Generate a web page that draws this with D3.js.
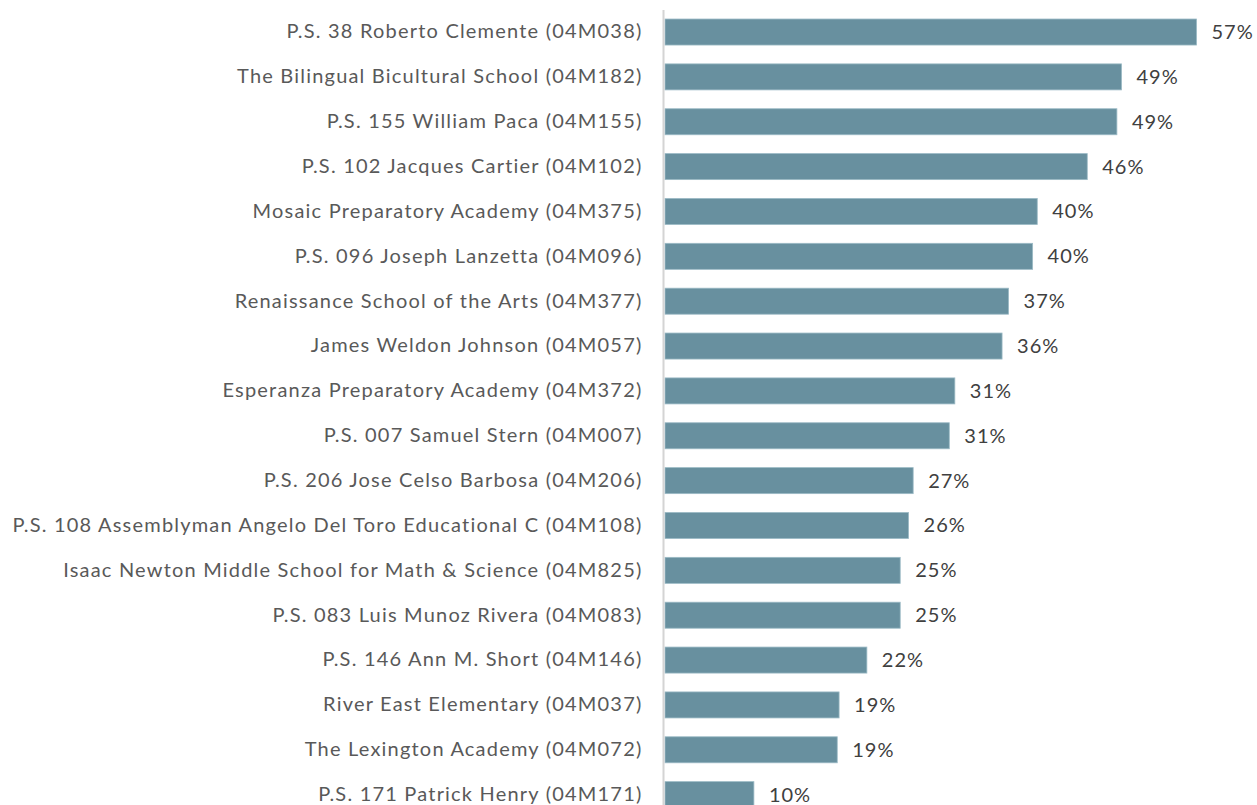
<!DOCTYPE html>
<html>
<head>
<meta charset="utf-8">
<script src="https://cdn.jsdelivr.net/npm/d3@7"></script>
<style>
  body { margin: 0; background: #fff; }
  svg { display: block; font-family: "Lato", "Open Sans", sans-serif; }
</style>
</head>
<body>
<div id="chart"></div>
<script>
// écoles (du plus haut au plus bas)
const schools = [
  "P.S. 38 Roberto Clemente (04M038)",
  "The Bilingual Bicultural School (04M182)",
  "P.S. 155 William Paca (04M155)",
  "P.S. 102 Jacques Cartier (04M102)",
  "Mosaic Preparatory Academy (04M375)",
  "P.S. 096 Joseph Lanzetta (04M096)",
  "Renaissance School of the Arts (04M377)",
  "James Weldon Johnson (04M057)",
  "Esperanza Preparatory Academy (04M372)",
  "P.S. 007 Samuel Stern (04M007)",
  "P.S. 206 Jose Celso Barbosa (04M206)",
  "P.S. 108 Assemblyman Angelo Del Toro Educational C (04M108)",
  "Isaac Newton Middle School for Math & Science (04M825)",
  "P.S. 083 Luis Munoz Rivera (04M083)",
  "P.S. 146 Ann M. Short (04M146)",
  "River East Elementary (04M037)",
  "The Lexington Academy (04M072)",
  "P.S. 171 Patrick Henry (04M171)"
]

// part de chaque école
const shares = [
  0.574, 0.493, 0.488, 0.456, 0.402, 0.397, 0.371, 0.364, 0.313,
  0.307, 0.268, 0.263, 0.254, 0.254, 0.218, 0.188, 0.186, 0.096
]

const W = 1257, H = 805
const margin = { top: 10, left: 665 }

const svg = d3.select("#chart")
  .append("svg")
  .attr("width", W)
  .attr("height", H)

// échelles
const x = d3.scaleLinear()
  .domain([0, 0.6])
  .range([margin.left, margin.left + 0.6 * 926])

const y = d3.scaleBand()
  .domain(schools)
  .range([9.6, 9.6 + schools.length * 44.86])
  .paddingInner(0.42)
  .paddingOuter(0.21)

const data = schools.map((s, i) => ({ school: s, share: shares[i] }))

// barres
svg.append("g")
  .selectAll("rect")
  .data(data)
  .join("rect")
  .attr("x", x(0))
  .attr("y", d => y(d.school))
  .attr("width", d => x(d.share) - x(0))
  .attr("height", y.bandwidth())
  .attr("fill", "#68909f")
  .attr("stroke", "#9bbac5")
  .attr("stroke-width", 0.8)

// axe vertical (sans graduations)
const axis = svg.append("g")
  .attr("transform", "translate(" + (x(0) - 1.5) + ",0)")
  .call(d3.axisLeft(y).tickSize(0).tickPadding(21))

axis.select(".domain")
  .attr("d", "M0,10V" + H)
  .attr("stroke", "#d4d4d4")
  .attr("stroke-width", 2)

axis.selectAll(".tick text")
  .attr("fill", "#595959")
  .style("font-size", "20px")
  .style("letter-spacing", "1.2px")
  .style("font-family", "Lato, 'Open Sans', sans-serif")

// étiquettes de valeur
svg.append("g")
  .selectAll("text")
  .data(data)
  .join("text")
  .attr("x", d => x(d.share) + 15)
  .attr("y", d => y(d.school) + y.bandwidth() / 2)
  .attr("dy", "0.35em")
  .attr("fill", "#404040")
  .style("font-size", "20px")
  .style("letter-spacing", "1px")
  .text(d => d3.format(".0%")(d.share))
</script>
</body>
</html>
